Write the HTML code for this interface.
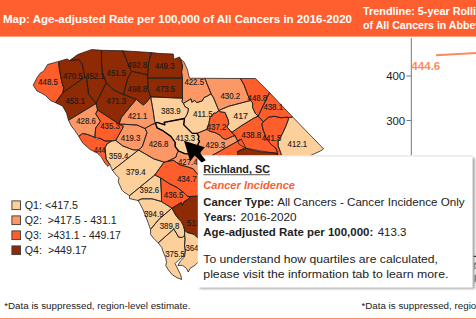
<!DOCTYPE html>
<html><head><meta charset="utf-8"><style>
html,body{margin:0;padding:0;background:#fff;width:476px;height:319px;overflow:hidden;position:relative}
svg{position:absolute;left:0;top:0}
text{font-family:"Liberation Sans",sans-serif}
</style></head><body>
<svg width="476" height="319">
<rect x="0" y="0" width="476" height="36.6" fill="#ff5f2e"/>
<g stroke="none">
<path d="M33.2,85.3 L36.5,78.5 L40.0,73.4 L43.8,70.9 L47.6,64.5 L58.9,61.4 L58.9,65.8 L60.2,74.0 L62.1,83.1 L63.7,87.8 L62.9,92.5 L55.5,102.7 L50.4,100.4 L45.7,95.7 L41.8,93.3 L37.0,91.0Z" fill="#fd5e2c"/>
<path d="M58.9,61.4 L67.1,58.9 L69.6,60.5 L79.1,59.5 L80.4,62.0 L82.2,63.9 L84.8,77.2 L62.9,92.5 L63.7,87.8 L62.1,83.1 L60.2,74.0 L58.9,65.8 L58.9,61.4Z" fill="#8e2a04"/>
<path d="M69.6,60.5 L77.8,54.5 L89.8,50.2 L91.7,49.6 L101.4,50.3 L101.6,65.0 L102.5,73.2 L106.3,82.6 L96.0,103.5 L88.5,93.9 L86.6,78.0 L84.8,77.2 L82.2,63.9 L80.4,62.0 L79.1,59.5Z" fill="#8e2a04"/>
<path d="M62.9,92.5 L84.8,77.2 L86.6,78.0 L88.5,93.9 L96.0,103.5 L68.5,120.3 L66.5,113.0 L62.5,106.0 L55.5,102.7Z" fill="#8e2a04"/>
<path d="M101.4,50.3 L122.2,50.7 L126.0,58.2 L129.8,68.5 L131.7,71.3 L127.9,77.9 L126.0,84.5 L123.5,94.5 L113.8,90.1 L106.3,82.6 L102.5,73.2 L101.6,65.0Z" fill="#8e2a04"/>
<path d="M122.2,50.7 L151.4,52.6 L148.6,62.6 L147.6,74.8 L140.1,73.2 L131.7,71.3 L129.8,68.5 L126.0,58.2Z" fill="#8e2a04"/>
<path d="M151.4,52.6 L160.0,53.5 L173.2,54.0 L173.8,57.5 L173.2,59.5 L179.6,57.0 L180.6,59.2 L182.6,66.0 L181.6,72.0 L182.4,78.2 L147.6,78.2 L147.6,74.8 L148.6,62.6Z" fill="#8e2a04"/>
<path d="M131.7,71.3 L140.1,73.2 L147.6,74.8 L147.6,78.2 L148.2,89.4 L150.7,96.9 L146.3,102.6 L143.2,105.1 L136.3,99.4 L123.5,94.5 L126.0,84.5 L127.9,77.9Z" fill="#8e2a04"/>
<path d="M147.6,78.2 L182.4,78.2 L182.4,88.0 L182.5,98.2 L150.7,96.9 L148.2,89.4Z" fill="#8e2a04"/>
<path d="M180.6,59.2 L184.0,62.0 L187.4,69.5 L188.6,75.0 L189.5,78.2 L204.8,78.3 L211.1,93.8 L206.9,96.3 L204.0,97.6 L202.3,100.9 L196.8,102.6 L194.7,100.5 L191.8,102.2 L191.0,98.8 L183.4,103.4 L182.1,101.8 L182.5,98.2 L182.4,88.0 L182.4,78.2 L181.6,72.0 L182.6,66.0Z" fill="#fc9766"/>
<path d="M204.8,78.3 L240.3,78.5 L244.1,85.0 L247.9,95.4 L250.5,100.5 L228.9,106.2 L221.7,109.2 L218.8,110.6 L213.6,98.0 L211.1,93.8Z" fill="#fc9766"/>
<path d="M240.3,78.5 L255.4,78.5 L269.5,92.6 L258.2,116.1 L255.4,113.5 L252.6,107.6 L252.6,102.9 L250.5,100.5 L247.9,95.4 L244.1,85.0Z" fill="#fd5e2c"/>
<path d="M269.5,92.6 L292.6,116.9 L288.2,117.9 L287.6,117.1 L281.4,117.8 L274.3,116.3 L268.8,117.1 L263.3,121.8 L258.2,116.1Z" fill="#fd5e2c"/>
<path d="M250.5,100.5 L252.6,102.9 L252.6,107.6 L255.4,113.5 L258.2,116.1 L253.3,118.4 L245.1,123.5 L241.4,125.7 L232.6,131.9 L231.3,131.9 L226.9,126.9 L228.8,123.8 L228.2,120.0 L225.1,112.5 L220.7,111.9 L218.8,110.6 L221.7,109.2 L228.9,106.2Z" fill="#fdcf9a"/>
<path d="M258.2,116.1 L263.3,121.8 L261.8,124.1 L263.3,130.4 L264.9,134.3 L265.7,137.5 L270.4,143.7 L275.9,148.4 L277.5,152.4 L277.5,155.5 L276.7,153.1 L268.8,152.4 L262.0,151.1 L246.0,148.3 L239.4,144.5 L237.5,140.8 L235.1,135.7 L231.3,131.9 L232.6,131.9 L241.4,125.7 L245.1,123.5 L253.3,118.4Z" fill="#fd5e2c"/>
<path d="M263.3,121.8 L268.8,117.1 L274.3,116.3 L281.4,117.8 L287.6,117.1 L288.2,117.9 L288.4,119.4 L286.1,125.7 L280.6,137.5 L278.2,140.6 L278.2,146.1 L280.6,152.4 L281.4,155.5 L281.4,160.0 L277.5,160.0 L277.5,155.5 L277.5,152.4 L275.9,148.4 L270.4,143.7 L265.7,137.5 L264.9,134.3 L263.3,130.4 L261.8,124.1Z" fill="#fd5e2c"/>
<path d="M292.6,116.9 L323.6,148.9 L320.8,150.8 L310.5,155.5 L300.0,162.0 L281.4,162.0 L281.4,155.5 L280.6,152.4 L278.2,146.1 L278.2,140.6 L280.6,137.5 L286.1,125.7 L288.4,119.4 L288.2,117.9Z" fill="#fdcf9a"/>
<path d="M237.5,151.5 L244.4,147.8 L252.8,150.0 L260.0,151.6 L268.8,152.4 L276.7,153.1 L277.5,155.5 L281.4,157.0 L282.0,175.0 L240.0,175.0Z" fill="#8e2a04"/>
<path d="M241.3,139.2 L246.0,148.3 L237.5,151.5 L240.0,175.0 L212.0,175.0 L212.0,155.5Z" fill="#fd5e2c"/>
<path d="M183.4,103.4 L191.0,98.8 L191.8,102.2 L194.7,100.5 L196.8,102.6 L202.3,100.9 L204.0,97.6 L206.9,96.3 L211.1,93.8 L213.6,98.0 L218.8,110.6 L215.7,113.1 L213.8,113.1 L212.5,115.0 L210.0,117.5 L208.8,123.8 L207.5,126.9 L206.9,129.4 L204.0,130.5 L197.0,133.4 L192.3,133.4 L183.7,124.8 L184.5,118.5 L186.8,115.0 L188.0,111.8 L188.4,108.5 L185.1,106.8Z" fill="#fdcf9a"/>
<path d="M218.8,110.6 L215.7,113.1 L213.8,113.1 L212.5,115.0 L210.0,117.5 L208.8,123.8 L207.5,126.9 L206.9,129.4 L210.0,131.3 L215.0,132.6 L220.0,135.1 L222.6,138.2 L225.7,139.5 L232.6,136.3 L235.1,135.7 L231.3,131.9 L226.9,126.9 L228.8,123.8 L228.2,120.0 L225.1,112.5 L220.7,111.9Z" fill="#fd5e2c"/>
<path d="M197.0,133.4 L204.0,130.5 L206.9,129.4 L210.0,131.3 L215.0,132.6 L220.0,135.1 L222.6,138.2 L225.7,139.5 L232.6,136.3 L235.1,135.7 L237.5,140.8 L241.3,139.2 L212.0,155.5 L212.0,175.0 L200.0,175.0 L200.0,152.0 L196.0,150.0 L198.2,143.8 L199.5,141.3 L198.2,139.4 L198.8,136.3Z" fill="#fc9766"/>
<path d="M150.7,96.9 L182.5,98.2 L182.1,101.8 L183.4,103.4 L185.1,106.8 L188.4,108.5 L188.0,111.8 L186.8,115.0 L184.5,118.5 L164.1,122.4 L164.9,124.8 L157.0,122.4 L155.5,123.2 L154.7,121.6 L153.1,110.7Z" fill="#fdcf9a"/>
<path d="M155.5,123.2 L157.0,122.4 L164.9,124.8 L164.1,122.4 L184.5,118.5 L183.7,124.8 L192.3,133.4 L197.0,133.4 L198.8,136.3 L198.2,139.4 L199.5,141.3 L198.2,143.8 L196.0,150.0 L192.0,154.0 L184.7,153.6 L178.6,151.0 L175.2,146.7 L175.2,142.4 L170.9,136.4 L162.2,130.3 L157.1,127.8Z" fill="#fdcf9a"/>
<path d="M136.3,99.4 L143.2,105.1 L146.3,102.6 L150.7,96.9 L153.1,110.7 L154.7,121.6 L155.5,123.2 L152.0,124.5 L148.7,126.4 L145.0,128.5 L137.0,125.0 L131.3,124.7 L119.0,124.0 L121.3,117.6 L129.4,107.6Z" fill="#fc9766"/>
<path d="M106.3,82.6 L113.8,90.1 L123.5,94.5 L136.3,99.4 L129.4,107.6 L121.3,117.6 L119.0,124.0 L97.6,110.0 L96.0,103.5Z" fill="#8e2a04"/>
<path d="M96.0,103.5 L97.6,110.0 L95.7,113.8 L100.4,121.3 L95.7,127.9 L94.8,137.3 L87.3,134.4 L82.6,133.5 L78.8,136.3 L75.0,130.7 L71.3,126.0 L68.5,120.3Z" fill="#fc9766"/>
<path d="M97.6,110.0 L119.0,124.0 L123.5,126.3 L122.0,129.4 L115.7,140.4 L111.7,141.0 L105.1,141.0 L99.5,138.2 L94.8,137.3 L95.7,127.9 L100.4,121.3 L95.7,113.8Z" fill="#fd5e2c"/>
<path d="M78.8,136.3 L82.6,133.5 L87.3,134.4 L94.8,137.3 L96.7,139.2 L99.5,138.2 L105.1,141.0 L111.7,141.0 L107.0,143.9 L105.1,147.6 L106.1,158.9 L109.8,164.5 L108.0,166.4 L105.1,163.6 L101.4,157.0 L97.6,153.3 L90.1,149.5 L82.6,142.9Z" fill="#fd5e2c"/>
<path d="M119.0,124.0 L131.3,124.7 L137.0,125.0 L145.0,128.5 L147.0,132.5 L142.3,146.6 L138.5,150.0 L132.9,149.8 L122.7,145.9 L115.7,140.4 L122.0,129.4 L123.5,126.3Z" fill="#fc9766"/>
<path d="M111.7,141.0 L115.7,140.4 L122.7,145.9 L132.9,149.8 L138.5,150.0 L125.7,160.0 L112.5,170.3 L109.8,164.5 L106.1,158.9 L105.1,147.6 L107.0,143.9Z" fill="#fdcf9a"/>
<path d="M145.0,128.5 L148.7,126.4 L152.0,124.5 L155.5,123.2 L157.1,127.8 L162.2,130.3 L170.9,136.4 L175.2,142.4 L175.2,146.7 L178.6,151.0 L176.9,153.6 L176.0,157.1 L170.9,159.7 L167.4,161.4 L164.0,162.2 L153.6,158.8 L138.5,150.0 L142.3,146.6 L147.0,132.5Z" fill="#fc9766"/>
<path d="M138.5,150.0 L153.6,158.8 L164.0,162.2 L154.8,175.0 L129.5,195.7 L123.8,192.0 L121.9,190.1 L118.2,181.6 L119.1,177.9 L115.3,174.1 L112.5,170.3 L125.7,160.0Z" fill="#fdcf9a"/>
<path d="M178.6,151.0 L184.7,153.6 L192.0,154.0 L196.0,150.0 L200.0,152.0 L200.0,174.0 L197.0,173.5 L193.2,168.8 L187.6,166.9 L180.1,165.0 L173.5,160.3 L167.4,161.4 L170.9,159.7 L176.0,157.1 L176.9,153.6Z" fill="#fc9766"/>
<path d="M164.0,162.2 L167.4,161.4 L173.5,160.3 L180.1,165.0 L187.6,166.9 L193.2,168.8 L197.0,173.5 L200.0,176.0 L200.0,196.0 L190.0,196.5 L187.5,196.3 L183.5,192.4 L177.3,187.6 L169.4,183.7 L160.5,177.9 L154.8,175.0Z" fill="#fd5e2c"/>
<path d="M154.8,175.0 L160.5,177.9 L161.4,193.9 L161.5,201.6 L152.1,198.8 L141.8,198.8 L138.0,200.5 L129.5,198.6 L129.5,195.7Z" fill="#fdcf9a"/>
<path d="M160.5,177.9 L169.4,183.7 L177.3,187.6 L183.5,192.4 L187.5,196.3 L190.0,196.5 L188.8,198.8 L184.1,201.6 L182.2,205.3 L181.3,202.5 L171.9,208.2 L161.5,201.6 L161.4,193.9Z" fill="#fd5e2c"/>
<path d="M171.9,208.2 L181.3,202.5 L182.2,205.3 L184.1,201.6 L188.8,198.8 L190.0,196.5 L200.0,196.0 L200.0,238.0 L197.3,237.6 L194.0,234.3 L190.2,233.3 L186.9,232.4 L184.6,230.0 L183.2,225.3 L181.3,221.6 L178.5,218.8 L175.6,215.0Z" fill="#8e2a04"/>
<path d="M138.0,200.5 L141.8,198.8 L152.1,198.8 L161.5,201.6 L171.9,208.2 L158.7,219.5 L150.5,229.5 L148.3,223.2 L145.5,215.7 L142.6,208.9 L139.9,203.5Z" fill="#fdcf9a"/>
<path d="M171.9,208.2 L175.6,215.0 L178.5,218.8 L181.3,221.6 L183.2,225.3 L184.6,230.0 L184.6,235.2 L182.2,237.6 L178.5,237.1 L177.0,234.3 L173.8,229.1 L158.2,242.9 L153.5,238.2 L150.6,234.4 L150.5,229.5 L158.7,219.5Z" fill="#fdcf9a"/>
<path d="M158.2,242.9 L173.8,229.1 L177.0,234.3 L178.5,237.1 L182.2,237.6 L184.6,235.2 L185.0,239.5 L184.5,245.7 L185.4,251.3 L182.6,257.0 L178.9,259.8 L175.1,263.6 L180.7,274.8 L181.7,279.5 L177.0,277.7 L172.3,274.8 L168.5,270.1 L165.7,265.4 L166.6,262.6 L165.7,257.9 L162.9,251.3 L161.9,247.6Z" fill="#fdcf9a"/>
<path d="M184.6,230.0 L186.9,232.4 L190.2,233.3 L194.0,234.3 L197.3,237.6 L200.0,240.0 L200.0,262.0 L197.7,262.6 L194.8,265.4 L190.1,268.3 L188.3,272.0 L186.4,268.3 L182.6,265.4 L177.9,265.4 L180.7,260.7 L184.5,257.0 L185.4,251.3 L184.5,245.7 L185.0,239.5 L184.6,235.2Z" fill="#fdcf9a"/>
</g>
<g fill="none" stroke="#1a1a1a" stroke-width="0.75" stroke-linejoin="round">
<path d="M33.2,85.3 L36.5,78.5 L40.0,73.4 L43.8,70.9 L47.6,64.5 L58.9,61.4 L58.9,65.8 L60.2,74.0 L62.1,83.1 L63.7,87.8 L62.9,92.5 L55.5,102.7 L50.4,100.4 L45.7,95.7 L41.8,93.3 L37.0,91.0Z"/>
<path d="M58.9,61.4 L67.1,58.9 L69.6,60.5 L79.1,59.5 L80.4,62.0 L82.2,63.9 L84.8,77.2 L62.9,92.5 L63.7,87.8 L62.1,83.1 L60.2,74.0 L58.9,65.8 L58.9,61.4Z"/>
<path d="M69.6,60.5 L77.8,54.5 L89.8,50.2 L91.7,49.6 L101.4,50.3 L101.6,65.0 L102.5,73.2 L106.3,82.6 L96.0,103.5 L88.5,93.9 L86.6,78.0 L84.8,77.2 L82.2,63.9 L80.4,62.0 L79.1,59.5Z"/>
<path d="M62.9,92.5 L84.8,77.2 L86.6,78.0 L88.5,93.9 L96.0,103.5 L68.5,120.3 L66.5,113.0 L62.5,106.0 L55.5,102.7Z"/>
<path d="M101.4,50.3 L122.2,50.7 L126.0,58.2 L129.8,68.5 L131.7,71.3 L127.9,77.9 L126.0,84.5 L123.5,94.5 L113.8,90.1 L106.3,82.6 L102.5,73.2 L101.6,65.0Z"/>
<path d="M122.2,50.7 L151.4,52.6 L148.6,62.6 L147.6,74.8 L140.1,73.2 L131.7,71.3 L129.8,68.5 L126.0,58.2Z"/>
<path d="M151.4,52.6 L160.0,53.5 L173.2,54.0 L173.8,57.5 L173.2,59.5 L179.6,57.0 L180.6,59.2 L182.6,66.0 L181.6,72.0 L182.4,78.2 L147.6,78.2 L147.6,74.8 L148.6,62.6Z"/>
<path d="M131.7,71.3 L140.1,73.2 L147.6,74.8 L147.6,78.2 L148.2,89.4 L150.7,96.9 L146.3,102.6 L143.2,105.1 L136.3,99.4 L123.5,94.5 L126.0,84.5 L127.9,77.9Z"/>
<path d="M147.6,78.2 L182.4,78.2 L182.4,88.0 L182.5,98.2 L150.7,96.9 L148.2,89.4Z"/>
<path d="M180.6,59.2 L184.0,62.0 L187.4,69.5 L188.6,75.0 L189.5,78.2 L204.8,78.3 L211.1,93.8 L206.9,96.3 L204.0,97.6 L202.3,100.9 L196.8,102.6 L194.7,100.5 L191.8,102.2 L191.0,98.8 L183.4,103.4 L182.1,101.8 L182.5,98.2 L182.4,88.0 L182.4,78.2 L181.6,72.0 L182.6,66.0Z"/>
<path d="M204.8,78.3 L240.3,78.5 L244.1,85.0 L247.9,95.4 L250.5,100.5 L228.9,106.2 L221.7,109.2 L218.8,110.6 L213.6,98.0 L211.1,93.8Z"/>
<path d="M240.3,78.5 L255.4,78.5 L269.5,92.6 L258.2,116.1 L255.4,113.5 L252.6,107.6 L252.6,102.9 L250.5,100.5 L247.9,95.4 L244.1,85.0Z"/>
<path d="M269.5,92.6 L292.6,116.9 L288.2,117.9 L287.6,117.1 L281.4,117.8 L274.3,116.3 L268.8,117.1 L263.3,121.8 L258.2,116.1Z"/>
<path d="M250.5,100.5 L252.6,102.9 L252.6,107.6 L255.4,113.5 L258.2,116.1 L253.3,118.4 L245.1,123.5 L241.4,125.7 L232.6,131.9 L231.3,131.9 L226.9,126.9 L228.8,123.8 L228.2,120.0 L225.1,112.5 L220.7,111.9 L218.8,110.6 L221.7,109.2 L228.9,106.2Z"/>
<path d="M258.2,116.1 L263.3,121.8 L261.8,124.1 L263.3,130.4 L264.9,134.3 L265.7,137.5 L270.4,143.7 L275.9,148.4 L277.5,152.4 L277.5,155.5 L276.7,153.1 L268.8,152.4 L262.0,151.1 L246.0,148.3 L239.4,144.5 L237.5,140.8 L235.1,135.7 L231.3,131.9 L232.6,131.9 L241.4,125.7 L245.1,123.5 L253.3,118.4Z"/>
<path d="M263.3,121.8 L268.8,117.1 L274.3,116.3 L281.4,117.8 L287.6,117.1 L288.2,117.9 L288.4,119.4 L286.1,125.7 L280.6,137.5 L278.2,140.6 L278.2,146.1 L280.6,152.4 L281.4,155.5 L281.4,160.0 L277.5,160.0 L277.5,155.5 L277.5,152.4 L275.9,148.4 L270.4,143.7 L265.7,137.5 L264.9,134.3 L263.3,130.4 L261.8,124.1Z"/>
<path d="M292.6,116.9 L323.6,148.9 L320.8,150.8 L310.5,155.5 L300.0,162.0 L281.4,162.0 L281.4,155.5 L280.6,152.4 L278.2,146.1 L278.2,140.6 L280.6,137.5 L286.1,125.7 L288.4,119.4 L288.2,117.9Z"/>
<path d="M237.5,151.5 L244.4,147.8 L252.8,150.0 L260.0,151.6 L268.8,152.4 L276.7,153.1 L277.5,155.5 L281.4,157.0 L282.0,175.0 L240.0,175.0Z"/>
<path d="M241.3,139.2 L246.0,148.3 L237.5,151.5 L240.0,175.0 L212.0,175.0 L212.0,155.5Z"/>
<path d="M183.4,103.4 L191.0,98.8 L191.8,102.2 L194.7,100.5 L196.8,102.6 L202.3,100.9 L204.0,97.6 L206.9,96.3 L211.1,93.8 L213.6,98.0 L218.8,110.6 L215.7,113.1 L213.8,113.1 L212.5,115.0 L210.0,117.5 L208.8,123.8 L207.5,126.9 L206.9,129.4 L204.0,130.5 L197.0,133.4 L192.3,133.4 L183.7,124.8 L184.5,118.5 L186.8,115.0 L188.0,111.8 L188.4,108.5 L185.1,106.8Z"/>
<path d="M218.8,110.6 L215.7,113.1 L213.8,113.1 L212.5,115.0 L210.0,117.5 L208.8,123.8 L207.5,126.9 L206.9,129.4 L210.0,131.3 L215.0,132.6 L220.0,135.1 L222.6,138.2 L225.7,139.5 L232.6,136.3 L235.1,135.7 L231.3,131.9 L226.9,126.9 L228.8,123.8 L228.2,120.0 L225.1,112.5 L220.7,111.9Z"/>
<path d="M197.0,133.4 L204.0,130.5 L206.9,129.4 L210.0,131.3 L215.0,132.6 L220.0,135.1 L222.6,138.2 L225.7,139.5 L232.6,136.3 L235.1,135.7 L237.5,140.8 L241.3,139.2 L212.0,155.5 L212.0,175.0 L200.0,175.0 L200.0,152.0 L196.0,150.0 L198.2,143.8 L199.5,141.3 L198.2,139.4 L198.8,136.3Z"/>
<path d="M150.7,96.9 L182.5,98.2 L182.1,101.8 L183.4,103.4 L185.1,106.8 L188.4,108.5 L188.0,111.8 L186.8,115.0 L184.5,118.5 L164.1,122.4 L164.9,124.8 L157.0,122.4 L155.5,123.2 L154.7,121.6 L153.1,110.7Z"/>
<path d="M136.3,99.4 L143.2,105.1 L146.3,102.6 L150.7,96.9 L153.1,110.7 L154.7,121.6 L155.5,123.2 L152.0,124.5 L148.7,126.4 L145.0,128.5 L137.0,125.0 L131.3,124.7 L119.0,124.0 L121.3,117.6 L129.4,107.6Z"/>
<path d="M106.3,82.6 L113.8,90.1 L123.5,94.5 L136.3,99.4 L129.4,107.6 L121.3,117.6 L119.0,124.0 L97.6,110.0 L96.0,103.5Z"/>
<path d="M96.0,103.5 L97.6,110.0 L95.7,113.8 L100.4,121.3 L95.7,127.9 L94.8,137.3 L87.3,134.4 L82.6,133.5 L78.8,136.3 L75.0,130.7 L71.3,126.0 L68.5,120.3Z"/>
<path d="M97.6,110.0 L119.0,124.0 L123.5,126.3 L122.0,129.4 L115.7,140.4 L111.7,141.0 L105.1,141.0 L99.5,138.2 L94.8,137.3 L95.7,127.9 L100.4,121.3 L95.7,113.8Z"/>
<path d="M78.8,136.3 L82.6,133.5 L87.3,134.4 L94.8,137.3 L96.7,139.2 L99.5,138.2 L105.1,141.0 L111.7,141.0 L107.0,143.9 L105.1,147.6 L106.1,158.9 L109.8,164.5 L108.0,166.4 L105.1,163.6 L101.4,157.0 L97.6,153.3 L90.1,149.5 L82.6,142.9Z"/>
<path d="M119.0,124.0 L131.3,124.7 L137.0,125.0 L145.0,128.5 L147.0,132.5 L142.3,146.6 L138.5,150.0 L132.9,149.8 L122.7,145.9 L115.7,140.4 L122.0,129.4 L123.5,126.3Z"/>
<path d="M111.7,141.0 L115.7,140.4 L122.7,145.9 L132.9,149.8 L138.5,150.0 L125.7,160.0 L112.5,170.3 L109.8,164.5 L106.1,158.9 L105.1,147.6 L107.0,143.9Z"/>
<path d="M145.0,128.5 L148.7,126.4 L152.0,124.5 L155.5,123.2 L157.1,127.8 L162.2,130.3 L170.9,136.4 L175.2,142.4 L175.2,146.7 L178.6,151.0 L176.9,153.6 L176.0,157.1 L170.9,159.7 L167.4,161.4 L164.0,162.2 L153.6,158.8 L138.5,150.0 L142.3,146.6 L147.0,132.5Z"/>
<path d="M138.5,150.0 L153.6,158.8 L164.0,162.2 L154.8,175.0 L129.5,195.7 L123.8,192.0 L121.9,190.1 L118.2,181.6 L119.1,177.9 L115.3,174.1 L112.5,170.3 L125.7,160.0Z"/>
<path d="M178.6,151.0 L184.7,153.6 L192.0,154.0 L196.0,150.0 L200.0,152.0 L200.0,174.0 L197.0,173.5 L193.2,168.8 L187.6,166.9 L180.1,165.0 L173.5,160.3 L167.4,161.4 L170.9,159.7 L176.0,157.1 L176.9,153.6Z"/>
<path d="M164.0,162.2 L167.4,161.4 L173.5,160.3 L180.1,165.0 L187.6,166.9 L193.2,168.8 L197.0,173.5 L200.0,176.0 L200.0,196.0 L190.0,196.5 L187.5,196.3 L183.5,192.4 L177.3,187.6 L169.4,183.7 L160.5,177.9 L154.8,175.0Z"/>
<path d="M154.8,175.0 L160.5,177.9 L161.4,193.9 L161.5,201.6 L152.1,198.8 L141.8,198.8 L138.0,200.5 L129.5,198.6 L129.5,195.7Z"/>
<path d="M160.5,177.9 L169.4,183.7 L177.3,187.6 L183.5,192.4 L187.5,196.3 L190.0,196.5 L188.8,198.8 L184.1,201.6 L182.2,205.3 L181.3,202.5 L171.9,208.2 L161.5,201.6 L161.4,193.9Z"/>
<path d="M171.9,208.2 L181.3,202.5 L182.2,205.3 L184.1,201.6 L188.8,198.8 L190.0,196.5 L200.0,196.0 L200.0,238.0 L197.3,237.6 L194.0,234.3 L190.2,233.3 L186.9,232.4 L184.6,230.0 L183.2,225.3 L181.3,221.6 L178.5,218.8 L175.6,215.0Z"/>
<path d="M138.0,200.5 L141.8,198.8 L152.1,198.8 L161.5,201.6 L171.9,208.2 L158.7,219.5 L150.5,229.5 L148.3,223.2 L145.5,215.7 L142.6,208.9 L139.9,203.5Z"/>
<path d="M171.9,208.2 L175.6,215.0 L178.5,218.8 L181.3,221.6 L183.2,225.3 L184.6,230.0 L184.6,235.2 L182.2,237.6 L178.5,237.1 L177.0,234.3 L173.8,229.1 L158.2,242.9 L153.5,238.2 L150.6,234.4 L150.5,229.5 L158.7,219.5Z"/>
<path d="M158.2,242.9 L173.8,229.1 L177.0,234.3 L178.5,237.1 L182.2,237.6 L184.6,235.2 L185.0,239.5 L184.5,245.7 L185.4,251.3 L182.6,257.0 L178.9,259.8 L175.1,263.6 L180.7,274.8 L181.7,279.5 L177.0,277.7 L172.3,274.8 L168.5,270.1 L165.7,265.4 L166.6,262.6 L165.7,257.9 L162.9,251.3 L161.9,247.6Z"/>
<path d="M184.6,230.0 L186.9,232.4 L190.2,233.3 L194.0,234.3 L197.3,237.6 L200.0,240.0 L200.0,262.0 L197.7,262.6 L194.8,265.4 L190.1,268.3 L188.3,272.0 L186.4,268.3 L182.6,265.4 L177.9,265.4 L180.7,260.7 L184.5,257.0 L185.4,251.3 L184.5,245.7 L185.0,239.5 L184.6,235.2Z"/>
</g>
<path d="M155.5,123.2 L157.0,122.4 L164.9,124.8 L164.1,122.4 L184.5,118.5 L183.7,124.8 L192.3,133.4 L197.0,133.4 L198.8,136.3 L198.2,139.4 L199.5,141.3 L198.2,143.8 L196.0,150.0 L192.0,154.0 L184.7,153.6 L178.6,151.0 L175.2,146.7 L175.2,142.4 L170.9,136.4 L162.2,130.3 L157.1,127.8Z" fill="none" stroke="#000" stroke-width="1.3" stroke-linejoin="round"/>
<g font-size="8.8" fill="#1a1a1a" stroke="#1a1a1a" stroke-width="0.12" text-anchor="middle">
<text x="48" y="84.70" textLength="19.6" lengthAdjust="spacingAndGlyphs">448.5</text>
<text x="72.8" y="78.50" textLength="19.6" lengthAdjust="spacingAndGlyphs">470.5</text>
<text x="94.9" y="78.50" textLength="19.6" lengthAdjust="spacingAndGlyphs">452.1</text>
<text x="116.4" y="76.20" textLength="19.6" lengthAdjust="spacingAndGlyphs">451.5</text>
<text x="137.4" y="67.60" textLength="19.6" lengthAdjust="spacingAndGlyphs">492.8</text>
<text x="164.7" y="69.20" textLength="19.6" lengthAdjust="spacingAndGlyphs">449.3</text>
<text x="137.4" y="92.10" textLength="19.6" lengthAdjust="spacingAndGlyphs">498.8</text>
<text x="165.4" y="92.10" textLength="19.6" lengthAdjust="spacingAndGlyphs">473.5</text>
<text x="75.2" y="103.50" textLength="19.6" lengthAdjust="spacingAndGlyphs">453.1</text>
<text x="116.4" y="104.40" textLength="19.6" lengthAdjust="spacingAndGlyphs">471.3</text>
<text x="86" y="123.70" textLength="19.6" lengthAdjust="spacingAndGlyphs">428.6</text>
<text x="110" y="128.90" textLength="19.6" lengthAdjust="spacingAndGlyphs">435.3</text>
<text x="137.5" y="119.00" textLength="19.6" lengthAdjust="spacingAndGlyphs">421.1</text>
<text x="170.9" y="113.50" textLength="19.6" lengthAdjust="spacingAndGlyphs">383.9</text>
<text x="202.9" y="116.60" textLength="19.6" lengthAdjust="spacingAndGlyphs">411.5</text>
<text x="194.2" y="85.10" textLength="19.6" lengthAdjust="spacingAndGlyphs">422.5</text>
<text x="230.3" y="98.50" textLength="19.6" lengthAdjust="spacingAndGlyphs">430.2</text>
<text x="216.5" y="130.20" textLength="19.6" lengthAdjust="spacingAndGlyphs">437.2</text>
<text x="130.6" y="141.00" textLength="19.6" lengthAdjust="spacingAndGlyphs">419.3</text>
<text x="158.5" y="147.10" textLength="19.6" lengthAdjust="spacingAndGlyphs">426.8</text>
<text x="185.3" y="141.00" textLength="19.6" lengthAdjust="spacingAndGlyphs">413.3</text>
<text x="215.4" y="147.70" textLength="19.6" lengthAdjust="spacingAndGlyphs">429.3</text>
<text x="118.6" y="159.00" textLength="19.6" lengthAdjust="spacingAndGlyphs">359.4</text>
<text x="240.6" y="118.70">417</text>
<text x="257.4" y="101.10" textLength="19.6" lengthAdjust="spacingAndGlyphs">448.8</text>
<text x="273.2" y="109.60" textLength="19.6" lengthAdjust="spacingAndGlyphs">438.1</text>
<text x="251.4" y="138.40" textLength="19.6" lengthAdjust="spacingAndGlyphs">438.8</text>
<text x="271.5" y="141.20" textLength="19.6" lengthAdjust="spacingAndGlyphs">441.5</text>
<text x="297.4" y="146.60" textLength="19.6" lengthAdjust="spacingAndGlyphs">412.1</text>
<text x="135.8" y="175.20" textLength="19.6" lengthAdjust="spacingAndGlyphs">379.4</text>
<text x="149.4" y="193.40" textLength="19.6" lengthAdjust="spacingAndGlyphs">392.6</text>
<text x="173.6" y="197.60" textLength="19.6" lengthAdjust="spacingAndGlyphs">436.5</text>
<text x="186.7" y="182.10" textLength="19.6" lengthAdjust="spacingAndGlyphs">434.7</text>
<text x="187.8" y="165.30" textLength="19.6" lengthAdjust="spacingAndGlyphs">427.4</text>
<text x="153.7" y="217.20" textLength="19.6" lengthAdjust="spacingAndGlyphs">394.9</text>
<text x="169.5" y="228.80" textLength="19.6" lengthAdjust="spacingAndGlyphs">389.8</text>
<text x="175" y="257.00" textLength="19.6" lengthAdjust="spacingAndGlyphs">375.5</text>
<text x="195.2" y="251.20" textLength="19.6" lengthAdjust="spacingAndGlyphs">364.2</text>
<text x="196.7" y="226.20" textLength="19.6" lengthAdjust="spacingAndGlyphs">511.2</text>
<text x="93.9" y="152.7" text-anchor="start" textLength="11.5" lengthAdjust="spacingAndGlyphs">444</text>
</g>
<rect x="410.8" y="38" width="1" height="118" fill="#777"/>
<rect x="406.5" y="75.5" width="4.5" height="1" fill="#777"/>
<rect x="406.5" y="120" width="4.5" height="1" fill="#777"/>
<line x1="436" y1="55.3" x2="476" y2="53.1" stroke="#fa8c5e" stroke-width="2"/>
<rect x="11.9" y="200.9" width="8.6" height="8.7" fill="#fdcf9a" stroke="#3a3a3a" stroke-width="0.9"/>
<rect x="11.9" y="215.9" width="8.6" height="8.7" fill="#fc9766" stroke="#3a3a3a" stroke-width="0.9"/>
<rect x="11.9" y="230.9" width="8.6" height="8.7" fill="#fd5e2c" stroke="#3a3a3a" stroke-width="0.9"/>
<rect x="11.9" y="245.9" width="8.6" height="8.7" fill="#8e2a04" stroke="#3a3a3a" stroke-width="0.9"/>
<rect x="0" y="318" width="476" height="1" fill="#fb8e63"/>
<text x="3" y="22.7" font-size="11.5" fill="#fff" font-weight="bold" textLength="349" lengthAdjust="spacingAndGlyphs">Map: Age-adjusted Rate per 100,000 of All Cancers in 2016-2020</text>
<text x="363.1" y="14.6" font-size="11.4" fill="#fff" font-weight="bold" textLength="171.1" lengthAdjust="spacingAndGlyphs">Trendline: 5-year Rolling Average</text>
<text x="363.1" y="28.5" font-size="11.4" fill="#fff" font-weight="bold" textLength="172.3" lengthAdjust="spacingAndGlyphs">of All Cancers in Abbeville County</text>
<text x="405.2" y="80.2" font-size="11.2" fill="#222" text-anchor="end" textLength="19" lengthAdjust="spacingAndGlyphs">400</text>
<text x="405.2" y="124.8" font-size="11.2" fill="#222" text-anchor="end" textLength="19" lengthAdjust="spacingAndGlyphs">300</text>
<text x="411.3" y="69.9" font-size="10.5" fill="#fa8c5e" font-weight="bold" textLength="29" lengthAdjust="spacingAndGlyphs">444.6</text>
<text x="24.8" y="209.0" font-size="11.3" fill="#222" textLength="53.2" lengthAdjust="spacingAndGlyphs" xml:space="preserve">Q1: &lt;417.5</text>
<text x="24.8" y="224.0" font-size="11.3" fill="#222" textLength="92" lengthAdjust="spacingAndGlyphs" xml:space="preserve">Q2:&#160; &gt;417.5 - 431.1</text>
<text x="24.8" y="239.0" font-size="11.3" fill="#222" textLength="96" lengthAdjust="spacingAndGlyphs" xml:space="preserve">Q3:&#160; &gt;431.1 - 449.17</text>
<text x="24.8" y="254.0" font-size="11.3" fill="#222" textLength="62" lengthAdjust="spacingAndGlyphs" xml:space="preserve">Q4:&#160; &gt;449.17</text>
<text x="4.2" y="309" font-size="9.7" fill="#222" textLength="186.2" lengthAdjust="spacingAndGlyphs">*Data is suppressed, region-level estimate.</text>
<text x="361.4" y="309" font-size="9.7" fill="#222" textLength="186.2" lengthAdjust="spacingAndGlyphs">*Data is suppressed, region-level estimate.</text>
<defs><filter id="sh" x="-5%" y="-5%" width="115%" height="115%"><feGaussianBlur stdDeviation="0.9"/></filter></defs>
<rect x="199.5" y="157.8" width="275.5" height="131.2" fill="#000" opacity="0.32" filter="url(#sh)"/>
<rect x="473.6" y="255.8" width="2.4" height="1.1" fill="#222"/>
<path d="M474.2,263 L476,262.2 L476,264 L475,266 L476,268.5 L474.5,269.5 Z" fill="#444" opacity="0.7"/>
<path d="M474.5,275 L476,274.5 L476,282 L474.5,282.5 Z" fill="#444" opacity="0.6"/>
<rect x="197.8" y="155.8" width="274.8" height="131.8" fill="#fff"/>
<rect x="197.8" y="155.2" width="274.8" height="1.4" fill="#e8e8e8"/>
<rect x="203.3" y="174.3" width="66.8" height="0.9" fill="#444"/>
<text x="203.3" y="173.2" font-size="11.2" fill="#222" font-weight="bold" textLength="66.7" lengthAdjust="spacingAndGlyphs">Richland, SC</text>
<text x="203.3" y="188.9" font-size="11.2" fill="#f5622f" font-weight="bold" font-style="italic" textLength="91.7" lengthAdjust="spacingAndGlyphs">Cancer Incidence</text>
<text x="203.3" y="205.5" font-size="11.2" fill="#222" font-weight="bold" textLength="70.8" lengthAdjust="spacingAndGlyphs">Cancer Type:</text>
<text x="277.2" y="205.5" font-size="11.2" fill="#222" textLength="187.5" lengthAdjust="spacingAndGlyphs">All Cancers - Cancer Incidence Only</text>
<text x="203.8" y="220.9" font-size="11.2" fill="#222" font-weight="bold" textLength="32.4" lengthAdjust="spacingAndGlyphs">Years:</text>
<text x="240.4" y="220.9" font-size="11.2" fill="#222" textLength="56.1" lengthAdjust="spacingAndGlyphs">2016-2020</text>
<text x="203.3" y="235.6" font-size="11.2" fill="#222" font-weight="bold" textLength="169.9" lengthAdjust="spacingAndGlyphs">Age-adjusted Rate per 100,000:</text>
<text x="377.7" y="235.6" font-size="11.2" fill="#222" textLength="28.8" lengthAdjust="spacingAndGlyphs">413.3</text>
<text x="203.3" y="262.5" font-size="11.2" fill="#222" textLength="234.7" lengthAdjust="spacingAndGlyphs">To understand how quartiles are calculated,</text>
<text x="203.3" y="277.7" font-size="11.2" fill="#222" textLength="245.1" lengthAdjust="spacingAndGlyphs">please visit the information tab to learn more.</text>
<path d="M184,140.7 L190.2,161.2 L194.7,155.4 L201.6,162.6 L205.8,160.2 L199.9,153 L204.8,147.3 Z" fill="#000"/>
</svg>
</body></html>
